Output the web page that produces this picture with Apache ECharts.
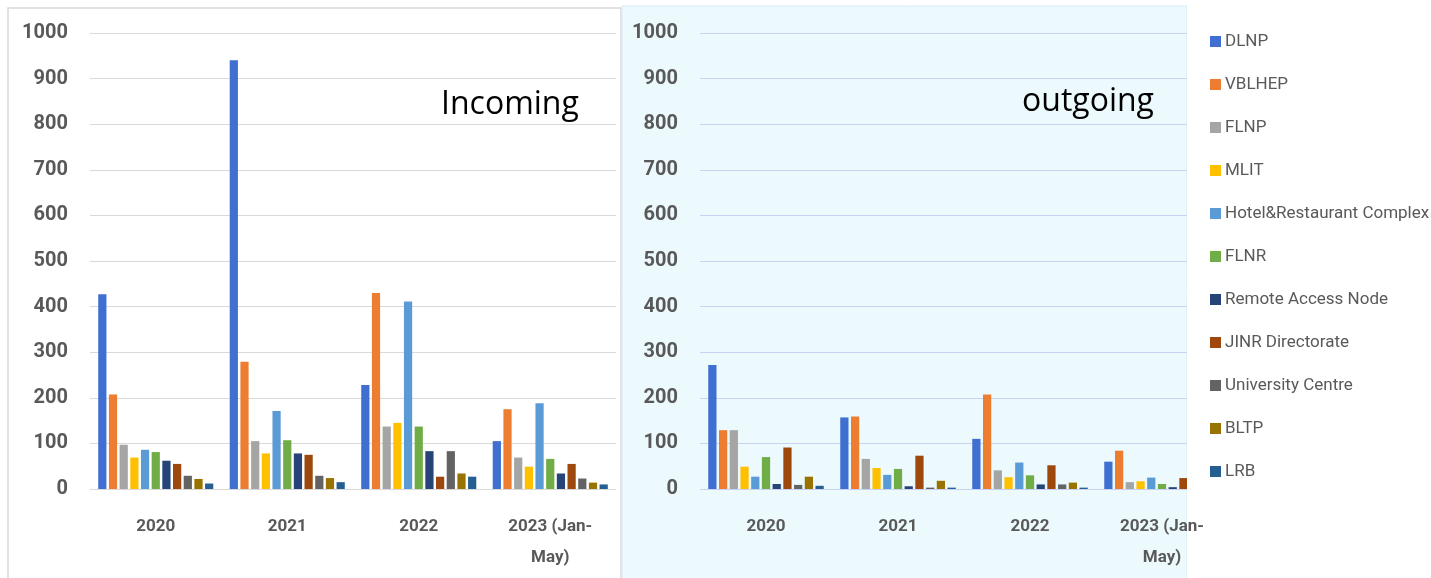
<!DOCTYPE html>
<html>
<head>
<meta charset="utf-8">
<script src="https://cdn.jsdelivr.net/npm/echarts@6/dist/echarts.min.js"></script>
<style>
html,body{margin:0;padding:0;background:#ffffff;}
#chart{width:1431px;height:578px;}
</style>
</head>
<body>
<div id="chart"></div>
<script>
const years = ['2020', '2021', '2022', '2023 (Jan-\nMay)'];
const yTicks = [0, 100, 200, 300, 400, 500, 600, 700, 800, 900, 1000];
const orgs = ['DLNP', 'VBLHEP', 'FLNP', 'MLIT', 'Hotel&Restaurant Complex', 'FLNR',
  'Remote Access Node', 'JINR Directorate', 'University Centre', 'BLTP', 'LRB'];
const orgColors = ['#3f6fd1', '#ed7d31', '#a5a5a5', '#ffc000', '#5b9bd5', '#70ad47',
  '#264478', '#9e480e', '#636363', '#997300', '#255e91'];

// Incoming: one row per organization, values for 2020, 2021, 2022, 2023
const incomingDLNP   = [427, 940, 228, 105];
const incomingVBLHEP = [207, 279, 430, 175];
const incomingFLNP   = [97, 105, 137, 69];
const incomingMLIT   = [69, 78, 145, 49];
const incomingHotel  = [86, 171, 411, 188];
const incomingFLNR   = [81, 107, 137, 66];
const incomingRAN    = [62, 78, 83, 34];
const incomingJINR   = [55, 75, 27, 55];
const incomingUC     = [29, 29, 83, 23];
const incomingBLTP   = [22, 24, 34, 14];
const incomingLRB    = [12, 15, 27, 10];

// Outgoing
const outgoingDLNP   = [272, 157, 110, 60];
const outgoingVBLHEP = [129, 159, 207, 84];
const outgoingFLNP   = [129, 66, 41, 15];
const outgoingMLIT   = [49, 46, 26, 17];
const outgoingHotel  = [27, 31, 58, 25];
const outgoingFLNR   = [70, 44, 30, 11];
const outgoingRAN    = [11, 6, 10, 4];
const outgoingJINR   = [91, 73, 52, 24];
const outgoingUC     = [9, 3, 10, 3];
const outgoingBLTP   = [27, 18, 14, 8];
const outgoingLRB    = [7, 3, 3, 2];

const incoming = [incomingDLNP, incomingVBLHEP, incomingFLNP, incomingMLIT, incomingHotel,
  incomingFLNR, incomingRAN, incomingJINR, incomingUC, incomingBLTP, incomingLRB];
const outgoing = [outgoingDLNP, outgoingVBLHEP, outgoingFLNP, outgoingMLIT, outgoingHotel,
  outgoingFLNR, outgoingRAN, outgoingJINR, outgoingUC, outgoingBLTP, outgoingLRB];

const font = "Roboto, 'Open Sans', sans-serif";
const chart = echarts.init(document.getElementById('chart'));

function xAxisFor(idx) {
  return {
    type: 'category', gridIndex: idx, data: years, z: 100,
    axisLine: { show: false }, axisTick: { show: false },
    axisLabel: { color: '#595959', fontFamily: font, fontWeight: 'bold', fontSize: 17,
      lineHeight: 31, margin: 22, interval: 0 }
  };
}
function yAxisFor(idx, gridColor) {
  return {
    type: 'value', gridIndex: idx, min: yTicks[0], max: yTicks[yTicks.length - 1], interval: 100,
    axisLine: { show: false }, axisTick: { show: false },
    axisLabel: { color: '#595959', fontFamily: font, fontWeight: 'bold', fontSize: 20, margin: 22,
      formatter: v => String(v) },
    splitLine: { lineStyle: { color: gridColor, width: 1.2 } }
  };
}

const series = [];
orgs.forEach((name, i) => {
  series.push({ name, type: 'bar', xAxisIndex: 0, yAxisIndex: 0, data: incoming[i],
    itemStyle: { color: orgColors[i] }, barGap: '30%', barCategoryGap: '12.5%' });
});
orgs.forEach((name, i) => {
  series.push({ name, type: 'bar', xAxisIndex: 1, yAxisIndex: 1, data: outgoing[i],
    itemStyle: { color: orgColors[i] }, barGap: '30%', barCategoryGap: '12.5%' });
});

chart.setOption({
  animation: false,
  backgroundColor: '#ffffff',
  graphic: [
    { type: 'rect', z: -10, shape: { x: 8, y: 8, width: 613, height: 575 },
      style: { fill: '#ffffff', stroke: '#d9d9d9', lineWidth: 1.5 } },
    { type: 'rect', z: -10, shape: { x: 622, y: 6, width: 565, height: 580 },
      style: { fill: '#ecfafd', stroke: '#d6ecf5', lineWidth: 1 } },
    { type: 'rect', z: 50, shape: { x: 1187, y: 0, width: 250, height: 578 },
      style: { fill: '#ffffff' } },
    { type: 'text', z: 60, left: 441, top: 89,
      style: { text: 'Incoming', fill: '#000000', font: "32px 'Open Sans', sans-serif" } },
    { type: 'text', z: 60, left: 1022, top: 86,
      style: { text: 'outgoing', fill: '#000000', font: "32px 'Open Sans', sans-serif" } }
  ],
  legend: {
    z: 200, orient: 'vertical', left: 1205, top: 26, itemWidth: 11, itemHeight: 11,
    itemGap: 22, icon: 'rect', data: orgs,
    textStyle: { color: '#595959', fontFamily: font, fontSize: 17, lineHeight: 21, padding: [0, 0, 0, -1] }
  },
  grid: [
    { left: 90, top: 33, width: 526, height: 456 },
    { left: 700, top: 33, width: 528, height: 456 }
  ],
  xAxis: [xAxisFor(0), xAxisFor(1)],
  yAxis: [yAxisFor(0, '#d9d9d9'), yAxisFor(1, '#c9d2f2')],
  series
});
</script>
</body>
</html>
